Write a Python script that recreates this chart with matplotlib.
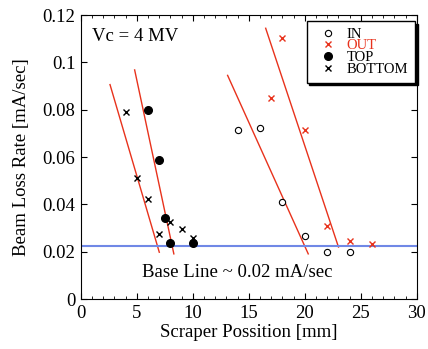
import matplotlib
matplotlib.use('Agg')
import matplotlib.pyplot as plt
from matplotlib.ticker import MultipleLocator

# data
in_x = [14, 16, 18, 20, 22, 24]
in_y = [0.0714, 0.0722, 0.0411, 0.0268, 0.0201, 0.0201]
out_x = [17, 18, 20, 22, 24, 26]
out_y = [0.085, 0.1104, 0.0714, 0.0307, 0.0245, 0.0231]
top_x = [6, 7, 7.5, 8, 10]
top_y = [0.0798, 0.0586, 0.0344, 0.0237, 0.0237]
bot_x = [4, 5, 6, 7, 8, 9, 10]
bot_y = [0.079, 0.0512, 0.0421, 0.0276, 0.0325, 0.0297, 0.0259]

# fitted lines (endpoints)
fit_x = [[2.6, 7.0], [4.8, 8.3], [13.1, 20.3], [16.5, 23.0]]
fit_y = [[0.0906, 0.0198], [0.0968, 0.0191], [0.0945, 0.0191], [0.1144, 0.022]]

base_line = 0.0224

red = '#e8321c'
blue = '#7088e6'

plt.rcParams['font.family'] = ['Liberation Serif', 'DejaVu Serif']

fig = plt.figure(figsize=(4.28, 3.49), dpi=100)
ax = fig.add_axes([0.189, 0.143, 0.785, 0.814])

for fx, fy in zip(fit_x, fit_y):
    ax.plot(fx, fy, color=red, lw=1.0)
ax.axhline(base_line, color=blue, lw=1.5)

ax.plot(in_x, in_y, 'o', mfc='white', mec='black', mew=0.8, ms=4.5, ls='none', label='IN')
ax.plot(out_x, out_y, 'x', color=red, mew=1.0, ms=5, ls='none', label='OUT')
ax.plot(top_x, top_y, 'o', color='black', ms=5.5, ls='none', label='TOP')
ax.plot(bot_x, bot_y, 'x', color='black', mew=1.0, ms=5, ls='none', label='BOTTOM')

ax.set_xlim(0, 30)
ax.set_ylim(0, 0.12)
ax.xaxis.set_major_locator(MultipleLocator(5))
ax.xaxis.set_minor_locator(MultipleLocator(1))
ax.set_yticks([0, 0.02, 0.04, 0.06, 0.08, 0.1, 0.12])
ax.set_yticklabels(['0', '0.02', '0.04', '0.06', '0.08', '0.1', '0.12'])
ax.tick_params(which='both', direction='in', top=True, right=True, labelsize=13.5)
ax.tick_params(which='major', length=4, pad=4)
ax.tick_params(which='minor', length=2)

ax.set_xlabel('Scraper Possition [mm]', fontsize=13.5, labelpad=2)
ax.set_ylabel('Beam Loss Rate [mA/sec]', fontsize=13.5, labelpad=9)

ax.text(1.0, 0.111, 'Vc = 4 MV', fontsize=13.5, va='center')
ax.text(14, 0.0113, 'Base Line ~ 0.02 mA/sec', fontsize=13.5, ha='center', va='center')

leg = ax.legend(loc='upper right', fontsize=10.5, frameon=True, fancybox=False,
                shadow={'color': 'black', 'alpha': 1.0, 'ox': 2, 'oy': -2},
                edgecolor='black', handletextpad=0.3, labelspacing=-0.1,
                borderpad=0.45, handlelength=2.0, borderaxespad=0,
                bbox_to_anchor=(0.994, 0.979))
leg.get_frame().set_linewidth(1.0)
for t in leg.get_texts():
    if t.get_text() == 'OUT':
        t.set_color(red)

fig.savefig('out.png', dpi=100)
